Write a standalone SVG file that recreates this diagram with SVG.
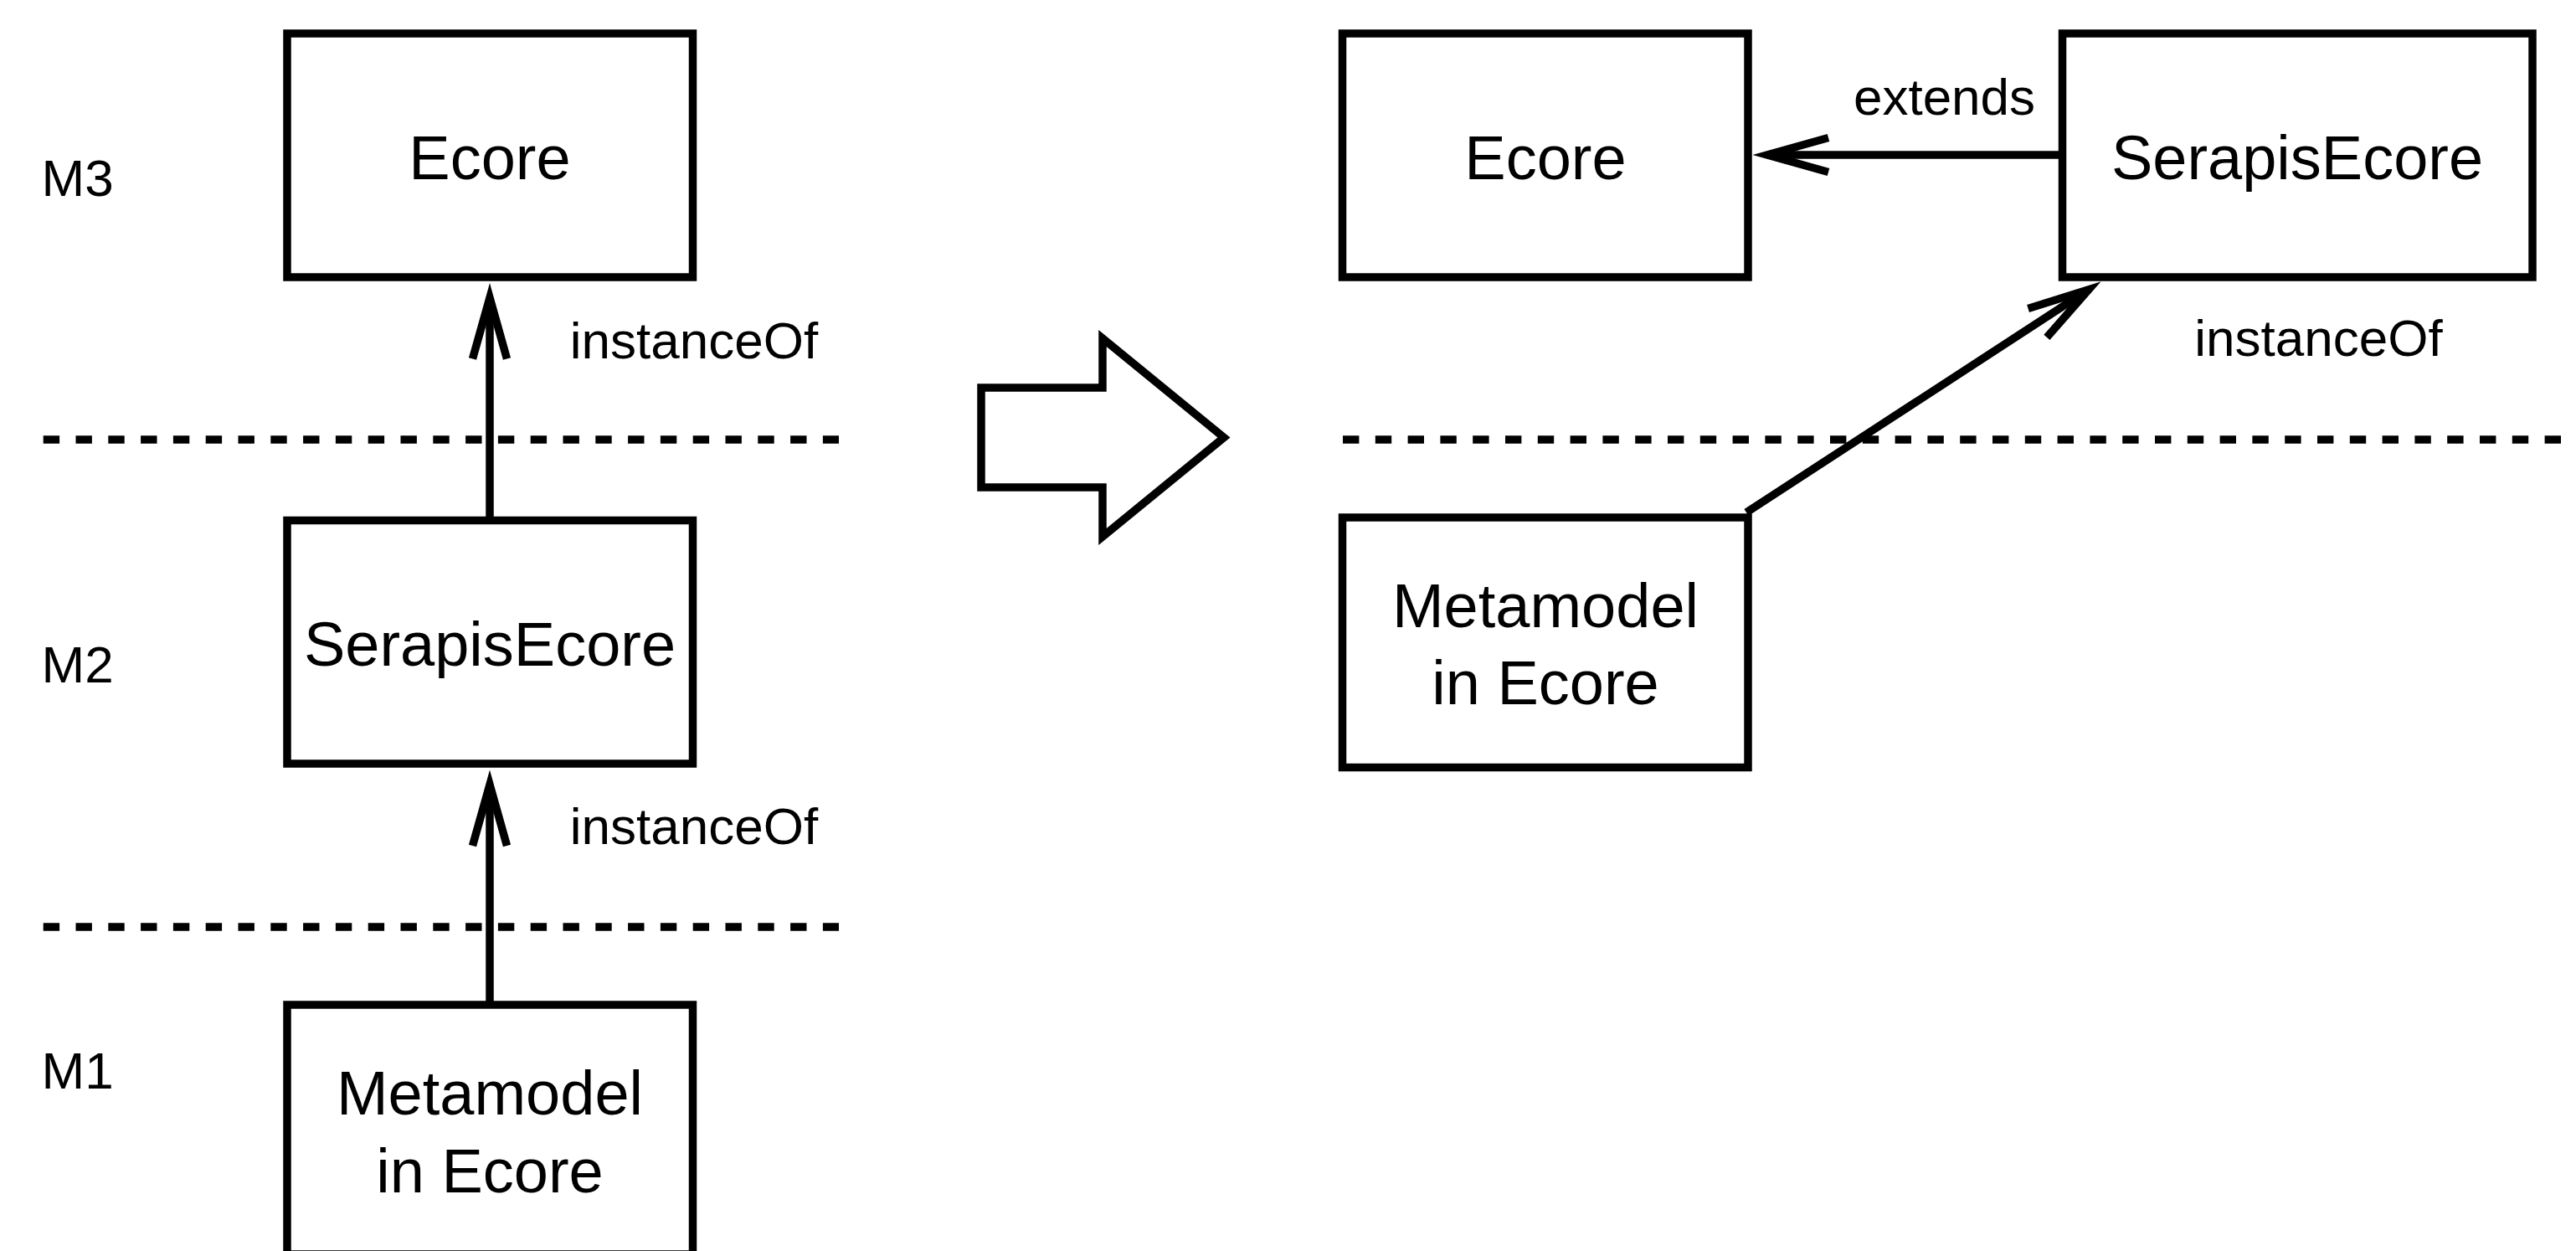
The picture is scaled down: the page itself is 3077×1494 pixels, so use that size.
<svg xmlns="http://www.w3.org/2000/svg" width="3077" height="1494" viewBox="0 0 3077 1494">
<style>
  .box { fill: #fff; stroke: #000; stroke-width: 9.5; }
  .big { font-family: "Liberation Sans", Arial, sans-serif; font-size: 74px; fill: #000; text-anchor: middle; }
  .lbl { font-family: "Liberation Sans", Arial, sans-serif; font-size: 62px; fill: #000; }
  .mid { text-anchor: middle; }
  .edge { fill: none; stroke: #000; stroke-width: 9.5; }
  .dash { fill: none; stroke: #000; stroke-width: 9.5; stroke-dasharray: 19.4 19.4; }
</style>
<defs>
  <marker id="open" markerUnits="userSpaceOnUse" orient="auto" refX="0" refY="0" markerWidth="200" markerHeight="200" viewBox="-100 -100 200 200" overflow="visible">
    <path d="M-73,-20.5 L0,0 L-73,20.5" fill="none" stroke="#000" stroke-width="9.5" stroke-linejoin="miter" stroke-miterlimit="10"/>
  </marker>
</defs>
<rect x="0" y="0" width="3077" height="1494" fill="#fff"/>

<g id="levels">
  <text class="lbl" x="49.5" y="234">M3</text>
  <text class="lbl" x="49.5" y="815">M2</text>
  <text class="lbl" x="49.5" y="1300">M1</text>
  <line class="dash" x1="51.7" y1="525" x2="1002" y2="525"/>
  <line class="dash" x1="51.7" y1="1107" x2="1002" y2="1107"/>
  <line class="dash" x1="1604" y1="525" x2="3077" y2="525"/>
</g>

<g id="connectors">
  <line class="edge" x1="585" y1="621" x2="585" y2="355.5" marker-end="url(#open)"/>
  <line class="edge" x1="585" y1="1200" x2="585" y2="937" marker-end="url(#open)"/>
  <line class="edge" x1="2463" y1="185" x2="2111" y2="185" marker-end="url(#open)"/>
  <line class="edge" x1="2086" y1="612" x2="2494.9" y2="345.8" marker-end="url(#open)"/>
  <text class="lbl mid" x="829" y="427.5">instanceOf</text>
  <text class="lbl mid" x="829" y="1008">instanceOf</text>
  <text class="lbl mid" x="2322.5" y="137">extends</text>
  <text class="lbl mid" x="2769.5" y="425">instanceOf</text>
</g>

<g id="transform-arrow">
  <polygon class="box" points="1172,463 1317,463 1317,404 1462,522.5 1317,641 1317,582 1172,582"/>
</g>

<g id="ecore-left">
  <rect class="box" x="343" y="40" width="484.5" height="291"/>
  <text class="big" x="585" y="213.6">Ecore</text>
</g>
<g id="serapis-left">
  <rect class="box" x="343" y="621.5" width="484.5" height="290.5"/>
  <text class="big" x="585" y="795">SerapisEcore</text>
</g>
<g id="metamodel-left">
  <rect class="box" x="343" y="1200" width="484.5" height="298"/>
  <text class="big" x="585" y="1331">Metamodel</text>
  <text class="big" x="585" y="1424">in Ecore</text>
</g>

<g id="ecore-right">
  <rect class="box" x="1603.5" y="40" width="484.5" height="291"/>
  <text class="big" x="1846" y="213.6">Ecore</text>
</g>
<g id="serapis-right">
  <rect class="box" x="2463.5" y="40" width="561.5" height="291"/>
  <text class="big" x="2744" y="213.6">SerapisEcore</text>
</g>
<g id="metamodel-right">
  <rect class="box" x="1603.5" y="618" width="484.5" height="298.5"/>
  <text class="big" x="1846" y="749">Metamodel</text>
  <text class="big" x="1846" y="841">in Ecore</text>
</g>
</svg>
